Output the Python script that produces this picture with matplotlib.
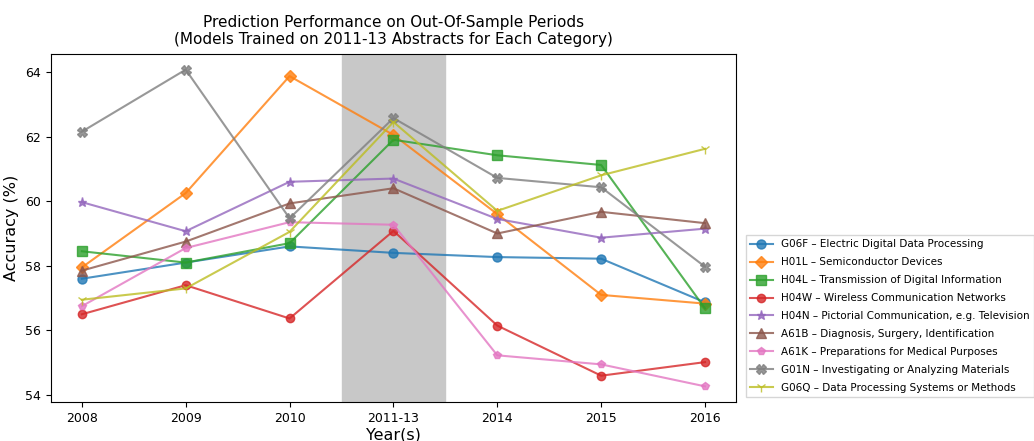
import matplotlib
matplotlib.use("Agg")
import matplotlib.pyplot as plt

years = ["2008", "2009", "2010", "2011-13", "2014", "2015", "2016"]
labels = [
    "G06F – Electric Digital Data Processing",
    "H01L – Semiconductor Devices",
    "H04L – Transmission of Digital Information",
    "H04W – Wireless Communication Networks",
    "H04N – Pictorial Communication, e.g. Television",
    "A61B – Diagnosis, Surgery, Identification",
    "A61K – Preparations for Medical Purposes",
    "G01N – Investigating or Analyzing Materials",
    "G06Q – Data Processing Systems or Methods",
]
g06f = [57.60, 58.10, 58.60, 58.40, 58.27, 58.22, 56.87]
h01l = [57.95, 60.25, 63.87, 62.05, 59.60, 57.10, 56.83]
h04l = [58.45, 58.10, 58.70, 61.90, 61.42, 61.12, 56.68]
h04w = [56.50, 57.40, 56.37, 59.08, 56.15, 54.60, 55.02]
h04n = [59.97, 59.07, 60.60, 60.70, 59.45, 58.87, 59.15]
a61b = [57.85, 58.75, 59.93, 60.40, 59.00, 59.67, 59.32]
a61k = [56.75, 58.55, 59.35, 59.27, 55.23, 54.95, 54.27]
g01n = [62.15, 64.07, 59.47, 62.57, 60.72, 60.43, 57.97]
g06q = [56.95, 57.30, 59.05, 62.45, 59.70, 60.80, 61.62]
series = [g06f, h01l, h04l, h04w, h04n, a61b, a61k, g01n, g06q]

markers = ["o", "D", "s", "o", "*", "^", "p", "X", "1"]
msizes = [6.5, 6.5, 6.5, 6, 6.5, 6.5, 6, 6.5, 7.5]
colors = ["#1f77b4", "#ff7f0e", "#2ca02c", "#d62728", "#9467bd",
          "#8c564b", "#e377c2", "#7f7f7f", "#bcbd22"]

fig = plt.figure(figsize=(10.34, 4.41), dpi=100)
ax = fig.add_axes([0.049, 0.088, 0.663, 0.79])
x = list(range(len(years)))
ax.axvspan(2.5, 3.5, color="#c8c8c8", zorder=0)
for vals, lab, m, ms, c in zip(series, labels, markers, msizes, colors):
    ax.plot(x, vals, marker=m, markersize=ms, color=c, alpha=0.8,
            linewidth=1.5, label=lab)
ax.set_xticks(x)
ax.set_xticklabels(years, fontsize=9)
ax.tick_params(axis="y", labelsize=9)
ax.set_xlim(-0.3, 6.3)
ax.set_ylabel("Accuracy (%)", fontsize=11.5)
ax.set_xlabel("Year(s)", fontsize=11.5, labelpad=2)
ax.set_title("Prediction Performance on Out-Of-Sample Periods\n(Models Trained on 2011-13 Abstracts for Each Category)",
             fontsize=11, pad=7)
fig.legend(loc="lower left", bbox_to_anchor=(0.721, 0.1), fontsize=7.5,
           frameon=True, fancybox=False, edgecolor="#cccccc",
           labelspacing=0.76, handlelength=2.2, borderaxespad=0)
fig.savefig("out.png", dpi=100)
